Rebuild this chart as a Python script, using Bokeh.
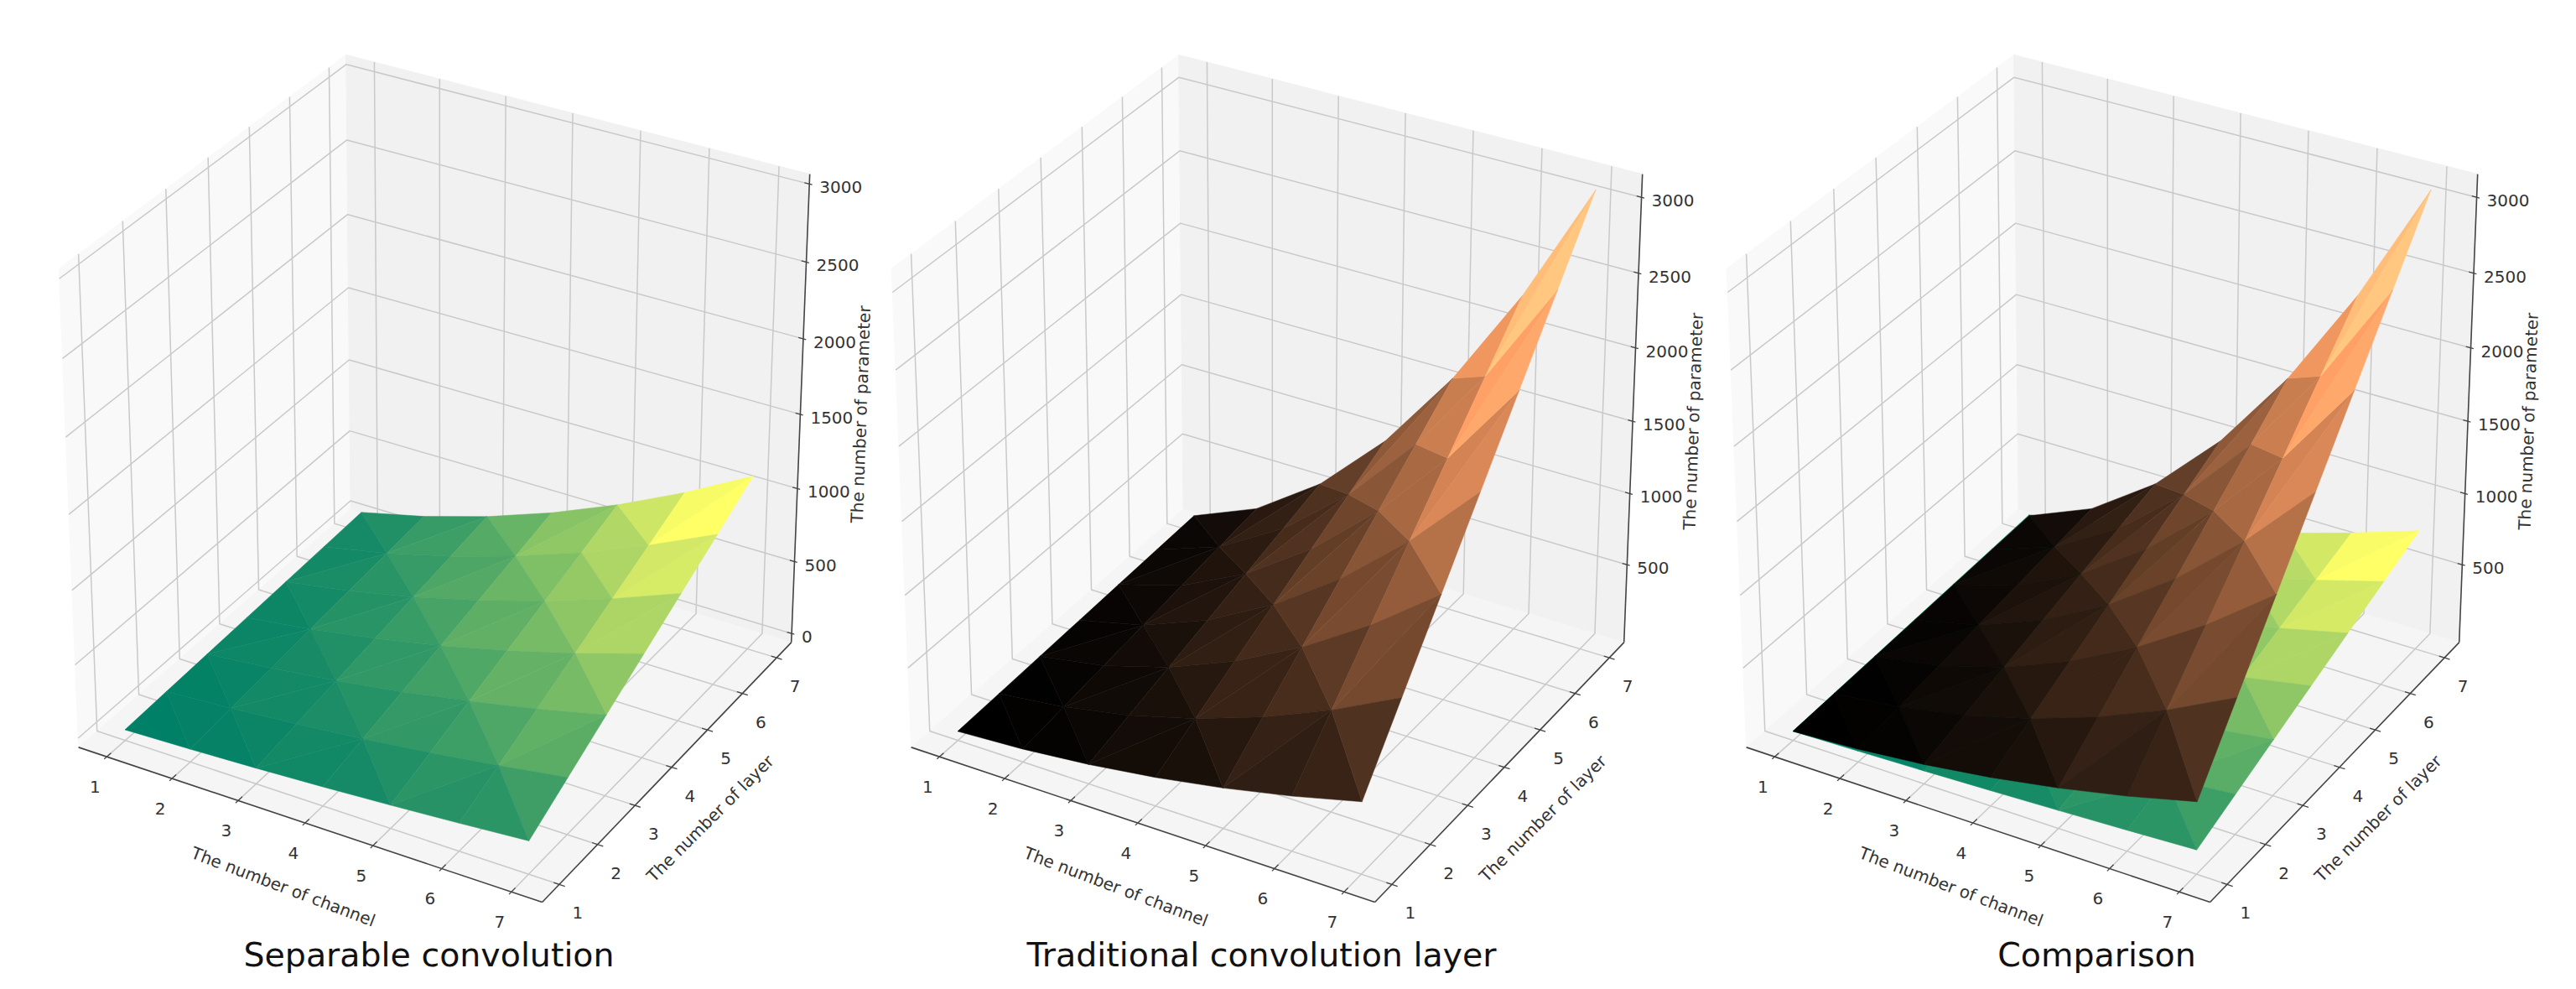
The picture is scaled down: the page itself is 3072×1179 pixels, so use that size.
import numpy as np

from bokeh.core.properties import value
from bokeh.embed import file_html
from bokeh.layouts import row
from bokeh.models import Range1d
from bokeh.plotting import figure
from bokeh.resources import INLINE

# Data
channels = [1, 2, 3, 4, 5, 6, 7]
layers = [1, 2, 3, 4, 5, 6, 7]

# rows are layers 1..7, columns are channels 1..7
separable = [
    [11, 26, 45, 68, 95, 126, 161],
    [22, 52, 90, 136, 190, 252, 322],
    [33, 78, 135, 204, 285, 378, 483],
    [44, 104, 180, 272, 380, 504, 644],
    [55, 130, 225, 340, 475, 630, 805],
    [66, 156, 270, 408, 570, 756, 966],
    [77, 182, 315, 476, 665, 882, 1127],
]
traditional = [
    [9, 36, 81, 144, 225, 324, 441],
    [18, 72, 162, 288, 450, 648, 882],
    [27, 108, 243, 432, 675, 972, 1323],
    [36, 144, 324, 576, 900, 1296, 1764],
    [45, 180, 405, 720, 1125, 1620, 2205],
    [54, 216, 486, 864, 1350, 1944, 2646],
    [63, 252, 567, 1008, 1575, 2268, 3087],
]
comparison_low = [
    [10, 22, 36, 52, 70, 90, 112],
    [20, 44, 72, 104, 140, 180, 224],
    [30, 66, 108, 156, 210, 270, 336],
    [40, 88, 144, 208, 280, 360, 448],
    [50, 110, 180, 260, 350, 450, 560],
    [60, 132, 216, 312, 420, 540, 672],
    [70, 154, 252, 364, 490, 630, 784],
]

z_ticks_first = [0, 500, 1000, 1500, 2000, 2500, 3000]
z_ticks_other = [500, 1000, 1500, 2000, 2500, 3000]
z_lim_first = (0, 3000)
z_lim_other = (9, 3087)
xy_lim = (0.7, 7.3)

titles = ["Separable convolution", "Traditional convolution layer", "Comparison"]
x_label = "The number of channel"
y_label = "The number of layer"
z_label = "The number of parameter"

# cells (channel, layer) whose diagonal goes against the checker pattern
flipped_cells = [(1, 1), (5, 5), (6, 5)]

# Page placement of each panel
page_top = 8
panel_h = 1163
scale_x = 6128.0
scale_y = 6252.0
center_y = 560.0
title_y = 1145
FONT = value("DejaVu Sans")


# mplot3d default view: elev 30, azim -60, dist 10
def project(x, y, z, zlim):
    x = np.asarray(x, dtype=float)
    y = np.asarray(y, dtype=float)
    z = np.asarray(z, dtype=float)
    dx = (x - xy_lim[0]) / (xy_lim[1] - xy_lim[0]) - 0.5
    dy = (y - xy_lim[0]) / (xy_lim[1] - xy_lim[0]) - 0.5
    dz = (z - zlim[0]) / (zlim[1] - zlim[0]) - 0.5
    u = 0.8660254 * dx + 0.5 * dy
    v = -0.25 * dx + 0.4330127 * dy + 0.8660254 * dz
    w = 10.0 - (0.4330127 * dx - 0.75 * dy + 0.5 * dz)
    return u / w, v / w, w


def summer(t):
    return (t, 0.5 + 0.5 * t, 0.4)


def copper(t):
    return (min(1.0, 1.25 * t), 0.7812 * t, 0.4975 * t)


def to_hex(rgb):
    return "#%02x%02x%02x" % tuple(int(round(c * 255)) for c in rgb)


def triangles():
    tris = []
    for i in range(len(channels) - 1):
        for j in range(len(layers) - 1):
            main = (channels[i] + layers[j]) % 2 == 0
            if (channels[i], layers[j]) in flipped_cells:
                main = not main
            if main:
                tris.append(((i, j), (i + 1, j), (i + 1, j + 1)))
                tris.append(((i, j), (i + 1, j + 1), (i, j + 1)))
            else:
                tris.append(((i, j), (i + 1, j), (i, j + 1)))
                tris.append(((i + 1, j), (i + 1, j + 1), (i, j + 1)))
    return tris


# Same as plot_trisurf with a cmap: colour from mean z, no shading
def draw_surface(p, table, cmap, zlim):
    tris = triangles()
    means = [sum(table[b][a] for a, b in t) / 3.0 for t in tris]
    lo, hi = min(means), max(means)
    faces = []
    for t, m in zip(tris, means):
        xs = [channels[a] for a, b in t]
        ys = [layers[b] for a, b in t]
        zs = [table[b][a] for a, b in t]
        px, py, pw = project(xs, ys, zs, zlim)
        faces.append((pw.mean(), list(px), list(py), to_hex(cmap((m - lo) / (hi - lo)))))
    faces.sort(key=lambda f: -f[0])
    colors = [f[3] for f in faces]
    p.patches([f[1] for f in faces], [f[2] for f in faces],
              fill_color=colors, line_color=colors, line_width=0.5)


def draw_box(p, z_ticks, zlim):
    pad = (xy_lim[1] - xy_lim[0]) / 48.0
    x0, x1 = xy_lim[0] - pad, xy_lim[1] + pad
    y0, y1 = x0, x1
    zpad = (zlim[1] - zlim[0]) / 48.0
    z0, z1 = zlim[0] - zpad, zlim[1] + zpad

    def pane(xs, ys, zs, color):
        px, py, _ = project(xs, ys, zs, zlim)
        p.patch(list(px), list(py), fill_color=color, line_color=color, line_width=1)

    def path(xs, ys, zs, color, width):
        px, py, _ = project(xs, ys, zs, zlim)
        p.line(list(px), list(py), line_color=color, line_width=width)

    pane([x0, x0, x0, x0], [y0, y1, y1, y0], [z0, z0, z1, z1], "#f9f9f9")
    pane([x0, x1, x1, x0], [y1, y1, y1, y1], [z0, z0, z1, z1], "#f1f1f1")
    pane([x0, x1, x1, x0], [y0, y0, y1, y1], [z0, z0, z0, z0], "#f5f5f5")

    grid = "#c9c9c9"
    for c in channels:
        path([c, c, c], [y0, y1, y1], [z0, z0, z1], grid, 1.5)
    for l in layers:
        path([x1, x0, x0], [l, l, l], [z0, z0, z1], grid, 1.5)
    for t in z_ticks:
        path([x0, x0, x1], [y0, y1, y1], [t, t, t], grid, 1.5)

    # The three dark axes
    axis = "#444444"
    path([x0, x1], [y0, y0], [z0, z0], axis, 1.6)
    path([x1, x1], [y0, y1], [z0, z0], axis, 1.6)
    path([x1, x1], [y1, y1], [z0, z1], axis, 1.6)

    for c in channels:
        path([c, c], [y0 - 0.06, y0 + 0.1], [z0, z0], axis, 1.3)
    for l in layers:
        path([x1 - 0.08, x1 + 0.08], [l, l], [z0, z0], axis, 1.3)
    for t in z_ticks:
        path([x1 - 0.07, x1 + 0.04], [y1, y1], [t, t], axis, 1.3)

    return x0, x1, y0, y1, z0, z1


def draw_labels(p, z_ticks, zlim, box):
    x0, x1, y0, y1, z0, z1 = box
    col = "#333333"

    px, py, _ = project(channels, [y0] * 7, [z0] * 7, zlim)
    p.text(list(px), list(py), text=[str(c) for c in channels], text_font=FONT, text_font_size="20px",
           text_color=col, text_align="center", text_baseline="middle", x_offset=-14, y_offset=36)

    px, py, _ = project([x1] * 7, layers, [z0] * 7, zlim)
    p.text(list(px), list(py), text=[str(l) for l in layers], text_font=FONT, text_font_size="20px",
           text_color=col, text_align="center", text_baseline="middle", x_offset=22, y_offset=34)

    n = len(z_ticks)
    px, py, _ = project([x1] * n, [y1] * n, z_ticks, zlim)
    p.text(list(px), list(py), text=[str(t) for t in z_ticks], text_font=FONT, text_font_size="20px",
           text_color=col, text_align="left", text_baseline="middle", x_offset=12, y_offset=4)

    px, py, _ = project([4], [y0], [z0], zlim)
    p.text(list(px), list(py), text=[x_label], text_font=FONT, text_font_size="20px", text_color=col,
           text_align="center", text_baseline="middle", angle=-0.363, x_offset=-26, y_offset=76)

    px, py, _ = project([x1], [4], [z0], zlim)
    p.text(list(px), list(py), text=[y_label], text_font=FONT, text_font_size="20px", text_color=col,
           text_align="center", text_baseline="middle", angle=0.785, x_offset=46, y_offset=61)

    px, py, _ = project([x1], [y1], [1500], zlim)
    p.text(list(px), list(py), text=[z_label], text_font=FONT, text_font_size="20px", text_color=col,
           text_align="center", text_baseline="middle", angle=1.535, x_offset=72, y_offset=0)


def make_panel(left, width, center_x, surfaces, z_ticks, zlim, title, title_x):
    p = figure(width=width, height=panel_h, toolbar_location=None, output_backend="svg",
               x_range=Range1d((left - center_x) / scale_x, (left + width - center_x) / scale_x),
               y_range=Range1d((center_y - page_top - panel_h) / scale_y, (center_y - page_top) / scale_y),
               x_axis_location=None, y_axis_location=None, min_border=0,
               outline_line_color=None, background_fill_color="white")
    p.grid.visible = False

    box = draw_box(p, z_ticks, zlim)
    for table, cmap in surfaces:
        draw_surface(p, table, cmap, zlim)
    draw_labels(p, z_ticks, zlim, box)

    p.text([(title_x - center_x) / scale_x], [(center_y - title_y) / scale_y], text=[title],
           text_font=FONT, text_font_size="39.5px", text_color="#111111",
           text_align="center", text_baseline="middle")
    return p


p1 = make_panel(8, 1052, 533, [(separable, summer)], z_ticks_first, z_lim_first, titles[0], 519)
p2 = make_panel(1060, 998, 1526, [(traditional, copper)], z_ticks_other, z_lim_other, titles[1], 1512)
p3 = make_panel(2058, 1006, 2522, [(comparison_low, summer), (traditional, copper)],
                z_ticks_other, z_lim_other, titles[2], 2508)

layout = row(p1, p2, p3)
open("out.html", "w").write(file_html(layout, INLINE))
